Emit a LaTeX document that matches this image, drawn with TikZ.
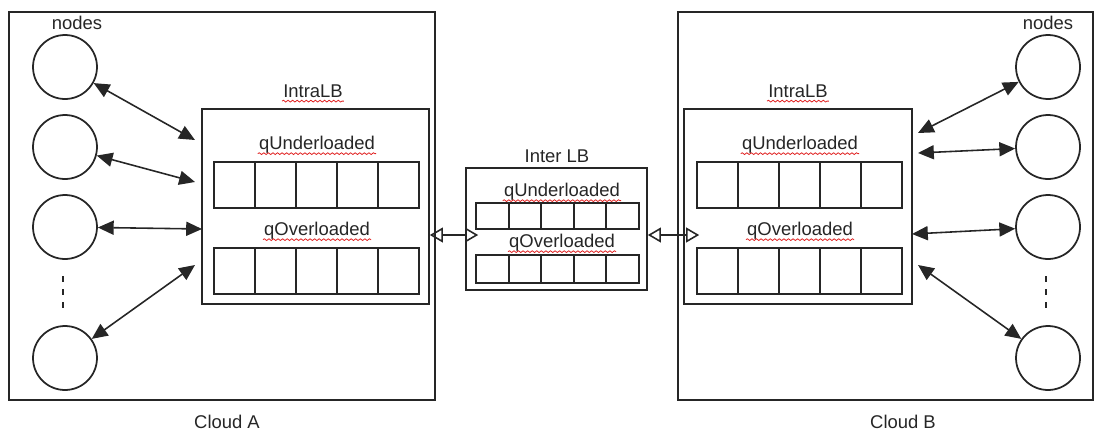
\documentclass[tikz,border=0pt]{standalone}
\usepackage{fontspec}
\setmainfont{Liberation Sans}
\usetikzlibrary{arrows.meta,fit,decorations.pathmorphing}
\definecolor{ink}{HTML}{262626}
\definecolor{spell}{HTML}{E02020}

% a row of five queue cells: name, left, top, cell width, cell height (px units)
\newcommand\queuerow[5]{%
  \foreach \i in {0,...,4}{%
    \node[cell, minimum width=#4*0.02cm, minimum height=#5*0.02cm]
      (#1-\i) at ({#2+\i*#4},#3) {};
  }%
}
% red wavy spell-check line under a label
\newcommand\spellwave[1]{%
  \draw[wave] ([yshift=-2.2pt]#1.base west) -- ([yshift=-2.2pt]#1.base east);%
}

\begin{document}
\begin{tikzpicture}[x=0.02cm,y=-0.02cm,
  every node/.style={font=\fontsize{10.5}{12}\selectfont, text=ink},
  frame/.style={draw=ink, line width=0.9pt, inner sep=0pt},
  cell/.style={draw=ink, line width=1.1pt, inner sep=0pt, anchor=north west},
  host/.style={circle, draw=ink, line width=1pt, minimum size=1.28cm, inner sep=0pt},
  lbl/.style={inner sep=0.5pt},
  bi/.style={draw=ink, line width=0.9pt,
    arrows={Triangle[length=9pt,width=8pt]-Triangle[length=9pt,width=8pt]}},
  biopen/.style={draw=ink, line width=0.9pt,
    arrows={Triangle[open,length=7.5pt,width=8.5pt]-Triangle[open,length=7.5pt,width=8.5pt]}},
  wave/.style={draw=spell, line width=0.45pt, decorate,
    decoration={snake, amplitude=0.5pt, segment length=2.6pt}},
  vdots/.style={draw=ink, line width=1.1pt, dash pattern=on 0.12cm off 0.14cm}]

\useasboundingbox (0,0) rectangle (1094,433);

% ---------------- Cloud A ----------------
\node[frame, fit={(9,12) (435,400)}] (cloudA) {};
\node at (227,422) (cloudAlbl) {Cloud A};
\node[lbl] at (77,23) (nodesA) {nodes};

\node[host] (a1) at (65,67) {};
\node[host] (a2) at (65,147) {};
\node[host] (a3) at (65,227) {};
\node[host] (a4) at (65,358) {};
\coordinate (a23) at (63,276);
\coordinate (a34) at (63,314);
\draw[vdots] (a23) -- (a34);

\node[frame, fit={(202,109) (429,304)}] (intraA) {};
\node[lbl] at (313,91) (intraAlbl) {IntraLB};
\node[lbl] at (317,145) (qUA) {qUnderloaded};
\node[lbl] at (317,231) (qOA) {qOverloaded};
\spellwave{intraAlbl}
\spellwave{qUA}
\spellwave{qOA}
\queuerow{quA}{213}{161}{41}{46}
\queuerow{qoA}{213}{247}{41}{46}

\coordinate (tA1) at (195,140);
\coordinate (tA2) at (195,182);
\coordinate (tA3) at (202,229);
\coordinate (tA4) at (195,265);
\draw[bi] (a1) -- (tA1);
\draw[bi] (a2) -- (tA2);
\draw[bi] (a3) -- (tA3);
\draw[bi] (a4) -- (tA4);

% ---------------- Inter LB ----------------
\node[frame, fit={(466,168) (647,290)}] (inter) {};
\node[lbl] at (557,156) (interlbl) {Inter LB};
\node[lbl] at (562,192) (qUI) {qUnderloaded};
\node[lbl] at (562,243) (qOI) {qOverloaded};
\spellwave{qUI}
\spellwave{qOI}
\queuerow{quI}{475}{202}{32.6}{26}
\queuerow{qoI}{475}{254}{32.6}{28}

% ---------------- Cloud B ----------------
\node[frame, fit={(678,12) (1093,400)}] (cloudB) {};
\node at (903,422) (cloudBlbl) {Cloud B};
\node[lbl] at (1048,23) (nodesB) {nodes};

\node[host] (b1) at (1048,67) {};
\node[host] (b2) at (1048,147) {};
\node[host] (b3) at (1048,227) {};
\node[host] (b4) at (1048,358) {};
\coordinate (b23) at (1046,276);
\coordinate (b34) at (1046,314);
\draw[vdots] (b23) -- (b34);

\node[frame, fit={(684,109) (912,304)}] (intraB) {};
\node[lbl] at (798,91) (intraBlbl) {IntraLB};
\node[lbl] at (800,145) (qUB) {qUnderloaded};
\node[lbl] at (800,231) (qOB) {qOverloaded};
\spellwave{intraBlbl}
\spellwave{qUB}
\spellwave{qOB}
\queuerow{quB}{696}{161}{41}{46}
\queuerow{qoB}{696}{247}{41}{46}

\coordinate (tB1) at (918,133);
\coordinate (tB2) at (918,153);
\coordinate (tB3) at (912,234);
\coordinate (tB4) at (918,265);
\draw[bi] (b1) -- (tB1);
\draw[bi] (b2) -- (tB2);
\draw[bi] (b3) -- (tB3);
\draw[bi] (b4) -- (tB4);

% ---------------- links between balancers ----------------
\coordinate (lnk) at (0,235);
\draw[biopen] (intraA.east |- lnk) -- ([xshift=0.26cm]inter.west |- lnk);
\draw[biopen] (inter.east |- lnk) -- ([xshift=0.32cm]intraB.west |- lnk);

\end{tikzpicture}
\end{document}
